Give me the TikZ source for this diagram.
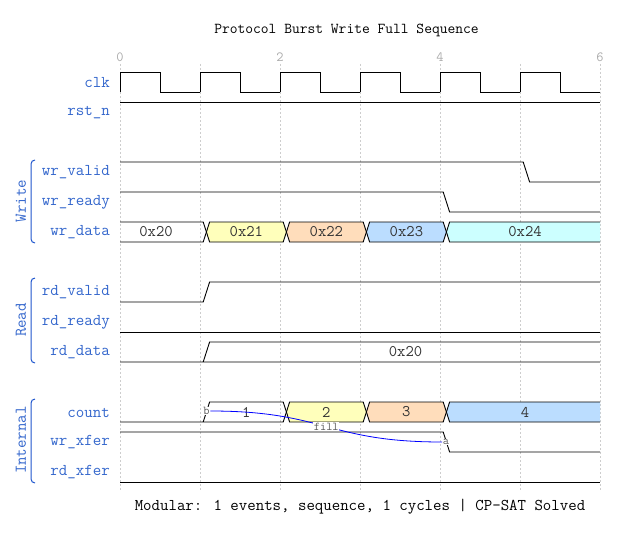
\documentclass[tikz,border=0pt]{standalone}
\definecolor{sigblue}{RGB}{51,102,204}
\definecolor{brblue}{RGB}{30,85,205}
\definecolor{gridgray}{RGB}{205,205,205}
\definecolor{tickgray}{RGB}{170,170,170}
\definecolor{busyellow}{RGB}{255,255,187}
\definecolor{buspeach}{RGB}{255,221,187}
\definecolor{busblue}{RGB}{187,221,255}
\definecolor{buscyan}{RGB}{204,255,255}

\begin{document}
\begin{tikzpicture}[x=1pt,y=-1pt,
  sig/.style={line width=0.9pt, line join=miter},
  bus/.style={line width=0.9pt, line join=miter},
  gridline/.style={gridgray, line width=0.6pt, dash pattern=on 2pt off 2pt},
  lbl/.style={anchor=east, inner sep=0pt, text=sigblue, font=\ttfamily\fontsize{16.5}{18}\selectfont},
  grp/.style={rotate=90, inner sep=0pt, text=sigblue, font=\ttfamily\fontsize{16.5}{18}\selectfont},
  brace/.style={brblue, line width=1pt, rounded corners=4pt},
  val/.style={inner sep=0pt, text=black!80, font=\ttfamily\fontsize{16.2}{18}\selectfont},
  tick/.style={inner sep=0pt, text=tickgray, font=\ttfamily\fontsize{14}{15}\selectfont},
  note/.style={fill=white, inner sep=0.6pt, text=black!65, font=\ttfamily\fontsize{12}{12}\selectfont},
  link/.style={blue, line width=0.8pt}]
\useasboundingbox (0,0) rectangle (620,532);

% title and footer
\node[font=\ttfamily\fontsize{15.1}{17}\selectfont] (title) at (346.5,30) {Protocol Burst Write Full Sequence};
\node[font=\ttfamily\fontsize{16.4}{18}\selectfont] (footer) at (360,507) {Modular: 1 events, sequence, 1 cycles | CP-SAT Solved};

% time grid
\foreach \i in {0,...,6}
  \draw[gridline] ({120+80*\i},64) -- ({120+80*\i},490);
\foreach \i in {0,2,4,6}
  \node[tick] (t\i) at ({120+80*\i},57) {\i};

% signal names
\node[lbl] (clk) at (110,82.5) {clk};
\node[lbl] (rstn) at (110,112.5) {rst\_n};
\node[lbl] (wrvalid) at (110,172.5) {wr\_valid};
\node[lbl] (wrready) at (110,202.5) {wr\_ready};
\node[lbl] (wrdata) at (110,232.5) {wr\_data};
\node[lbl] (rdvalid) at (110,292.5) {rd\_valid};
\node[lbl] (rdready) at (110,322.5) {rd\_ready};
\node[lbl] (rddata) at (110,352.5) {rd\_data};
\node[lbl] (count) at (110,412.5) {count};
\node[lbl] (wrxfer) at (110,442.5) {wr\_xfer};
\node[lbl] (rdxfer) at (110,472.5) {rd\_xfer};

% groups
\draw[brace] (35,160) -- (31,160) -- (31,243) -- (35,243);
\node[grp] (gwrite) at (21,201) {Write};
\draw[brace] (35,278) -- (31,278) -- (31,363) -- (35,363);
\node[grp] (gread) at (21,320) {Read};
\draw[brace] (35,399) -- (31,399) -- (31,483) -- (35,483);
\node[grp] (ginternal) at (21,440) {Internal};

% clk and rst_n
\foreach \i in {0,...,5}
  \draw[sig] ({120+80*\i},92) -- ({120+80*\i},72) -- ({160+80*\i},72) -- ({160+80*\i},92) -- ({200+80*\i},92);
\draw[sig] (120,102) -- (600,102);

% write channel
\draw[sig] (120,162) -- (523.2,162) -- (529.6,182) -- (600,182);
\draw[sig] (120,192) -- (443.2,192) -- (449.6,212) -- (600,212);
\draw[bus] (120,222) -- (203.2,222) -- (206.4,232) -- (203.2,242) -- (120,242);
\foreach \a/\b/\c in {209.6/283.2/busyellow, 289.6/363.2/buspeach, 369.6/443.2/busblue}
  \filldraw[bus, fill=\c] (\a-3.2,232) -- (\a,222) -- (\b,222) -- (\b+3.2,232) -- (\b,242) -- (\a,242) -- cycle;
\filldraw[bus, fill=buscyan] (600,222) -- (449.6,222) -- (446.4,232) -- (449.6,242) -- (600,242);
\node[val] (v20) at (156,232) {0x20};
\node[val] (v21) at (246.4,232) {0x21};
\node[val] (v22) at (326.4,232) {0x22};
\node[val] (v23) at (406.4,232) {0x23};
\node[val] (v24) at (525,232) {0x24};

% read channel
\draw[sig] (120,302) -- (203.2,302) -- (209.6,282) -- (600,282);
\draw[sig] (120,332) -- (600,332);
\draw[bus] (120,362) -- (600,362) (203.2,362) -- (209.6,342) -- (600,342);
\node[val] (rd20) at (405.5,352) {0x20};

% internal
\draw[bus] (120,422) -- (283.2,422) -- (286.4,412) -- (283.2,402) -- (209.6,402) -- (203.2,422);
\foreach \a/\b/\c in {289.6/363.2/busyellow, 369.6/443.2/buspeach}
  \filldraw[bus, fill=\c] (\a-3.2,412) -- (\a,402) -- (\b,402) -- (\b+3.2,412) -- (\b,422) -- (\a,422) -- cycle;
\filldraw[bus, fill=busblue] (600,402) -- (449.6,402) -- (446.4,412) -- (449.6,422) -- (600,422);
\node[val] (c1) at (246.4,412) {1};
\node[val] (c2) at (326.4,412) {2};
\node[val] (c3) at (406.4,412) {3};
\node[val] (c4) at (525,412) {4};
\draw[sig] (120,432) -- (443.2,432) -- (449.6,452) -- (600,452);
\draw[sig] (120,482) -- (600,482);

% constraint
\node[note] (b) at (206.5,411) {b};
\node[note] (a) at (446,442) {a};
\draw[link] (b.east) .. controls +(115,0) and +(-115,0) .. (a.west)
  node[note, pos=0.5] (fillnote) {fill};
\end{tikzpicture}
\end{document}
